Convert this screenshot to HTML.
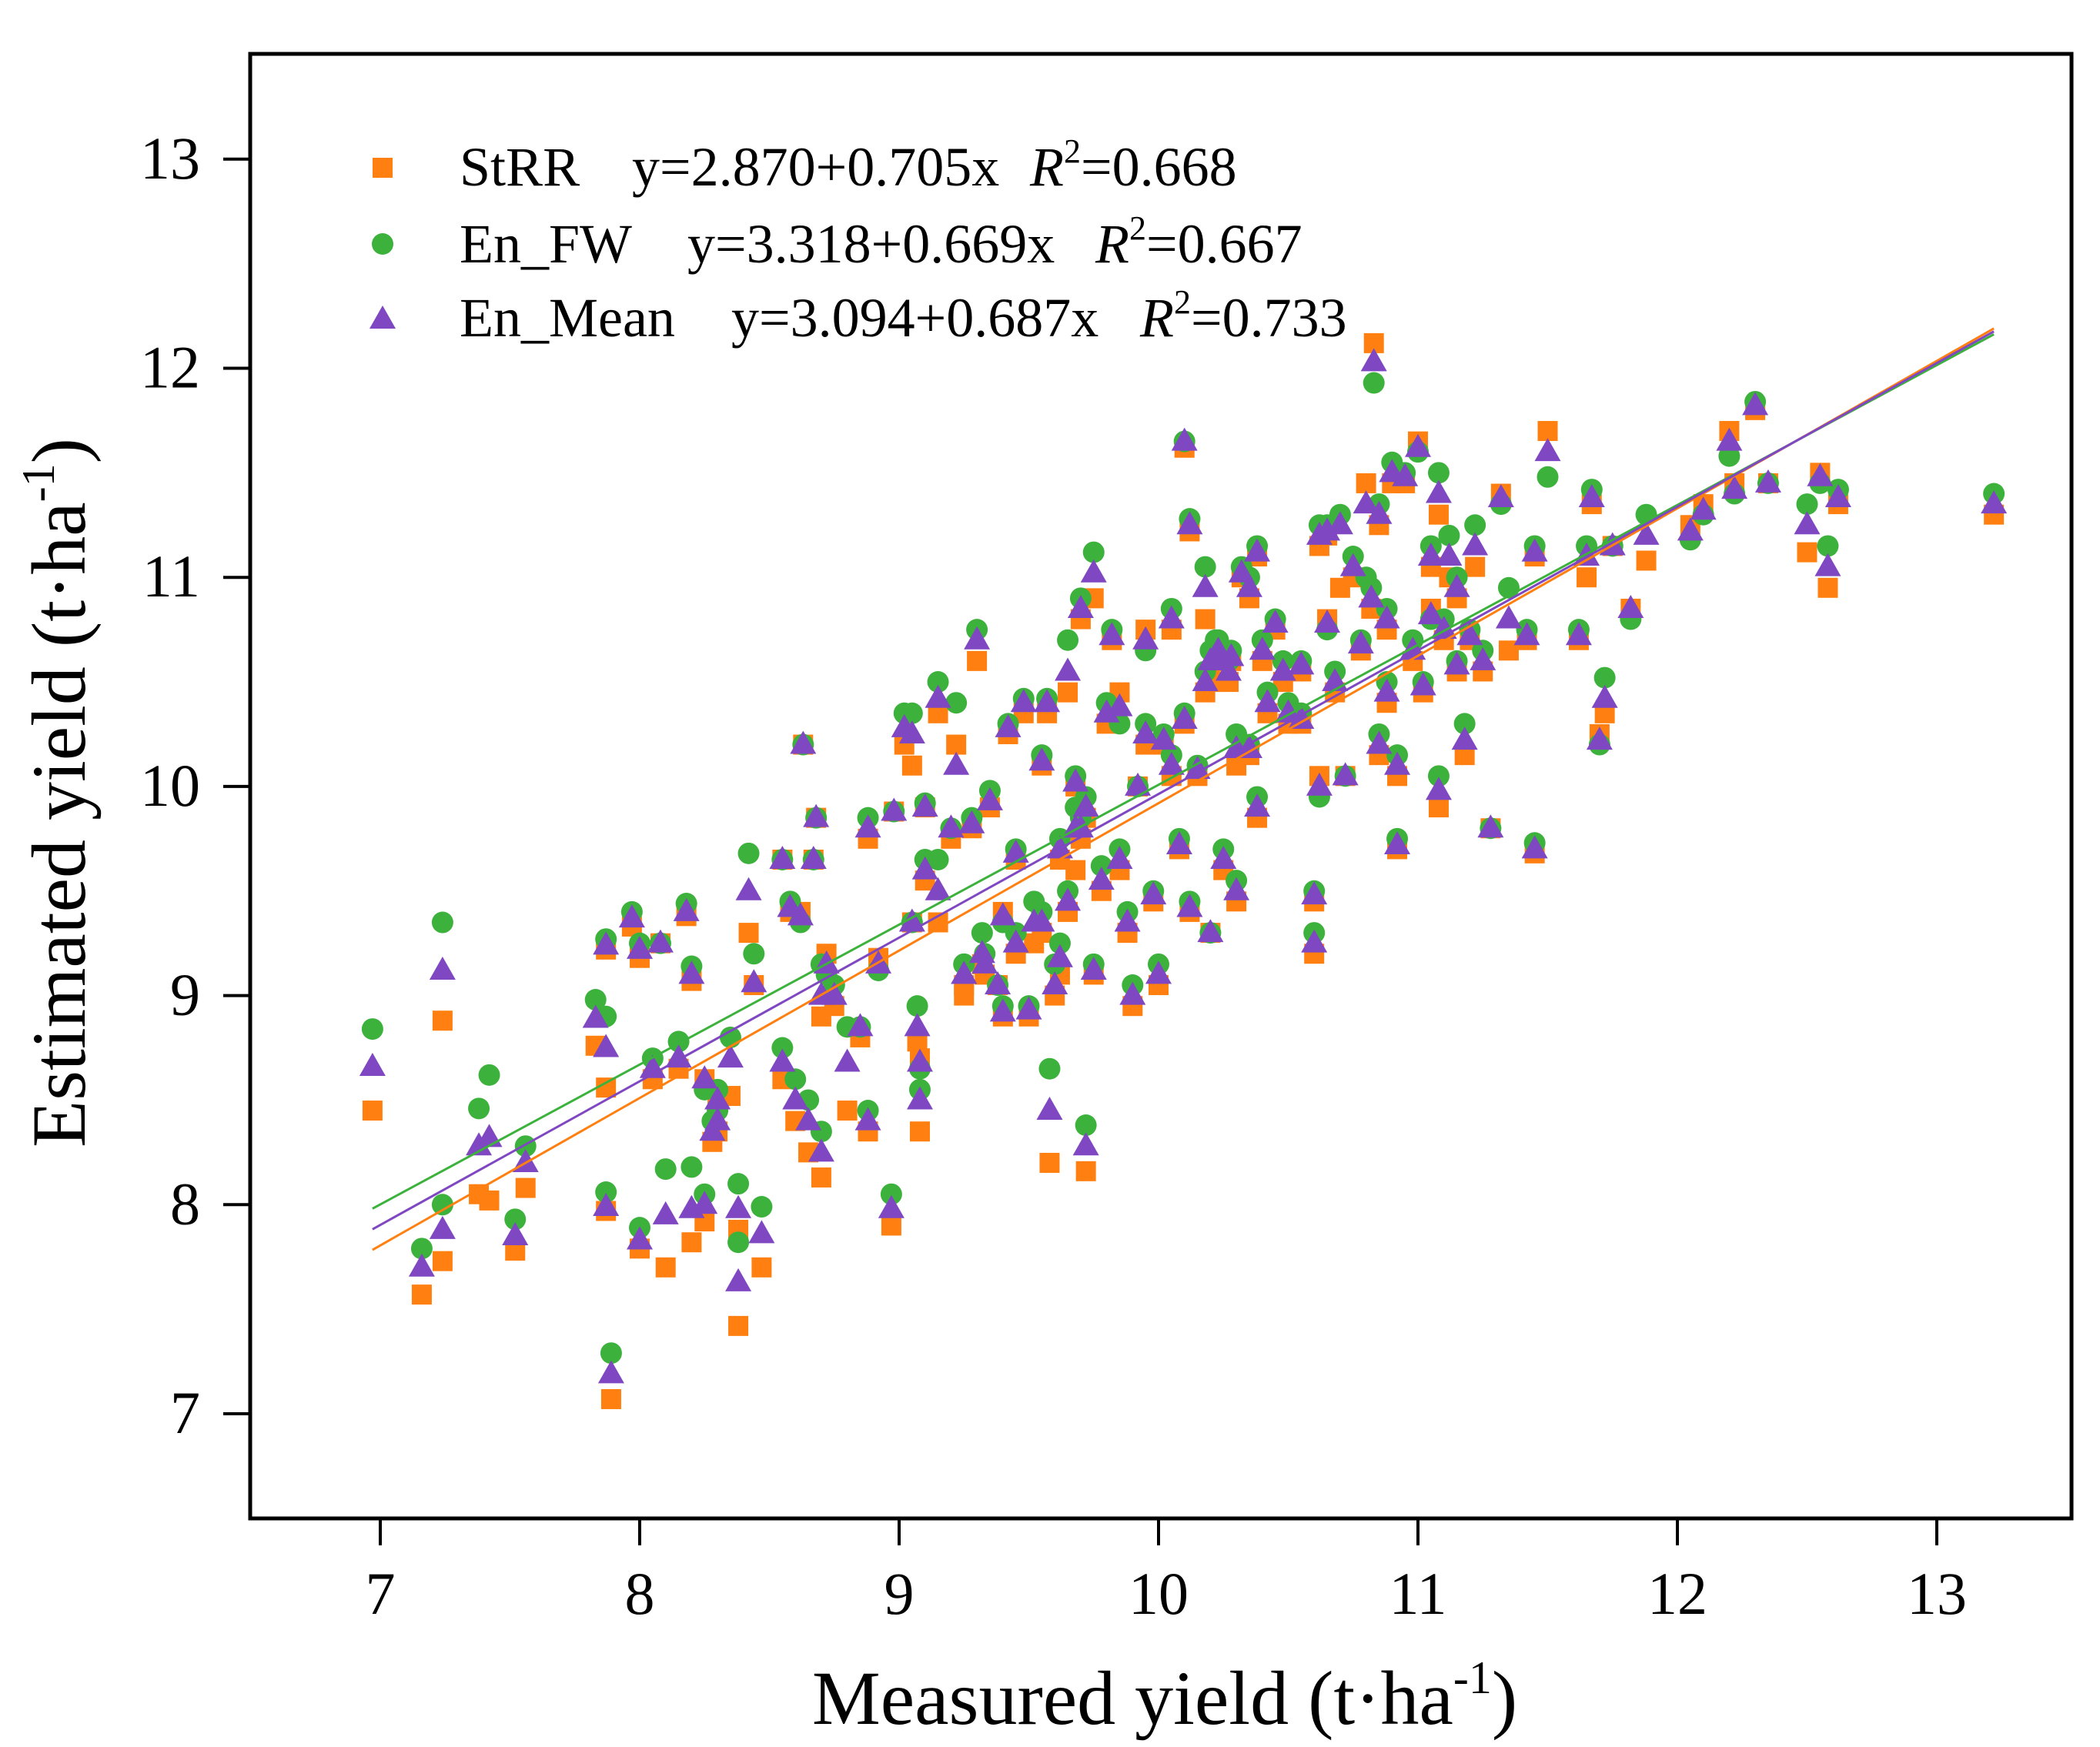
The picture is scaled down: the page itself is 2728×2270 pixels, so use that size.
<!DOCTYPE html>
<html><head><meta charset="utf-8"><style>
html,body{margin:0;padding:0;background:#fff;}
svg{display:block;}
text{font-family:"Liberation Serif",serif;fill:#000;}
</style></head><body>
<svg id="chart" width="2728" height="2270" viewBox="0 0 2728 2270" xmlns="http://www.w3.org/2000/svg">
<g id="marks"></g>
<g id="axes"></g>
<g id="legend">
  <rect x="484" y="205" width="26" height="26" fill="#ff8010"/>
  <circle cx="497" cy="317" r="14" fill="#3cb23c"/>
  <polygon points="497,397 514,427 480,427" fill="#7f47c1"/>
  <text x="597" y="241" font-size="72">StRR</text>
  <text x="821" y="241" font-size="72">y=2.870+0.705x</text>
  <text x="1338" y="241" font-size="72"><tspan font-style="italic">R</tspan><tspan font-size="44" dy="-30">2</tspan><tspan dy="30">=0.668</tspan></text>
  <text x="597" y="341" font-size="72">En_FW</text>
  <text x="893" y="341" font-size="72">y=3.318+0.669x</text>
  <text x="1423" y="341" font-size="72"><tspan font-style="italic">R</tspan><tspan font-size="44" dy="-30">2</tspan><tspan dy="30">=0.667</tspan></text>
  <text x="597" y="437" font-size="72">En_Mean</text>
  <text x="950" y="437" font-size="72">y=3.094+0.687x</text>
  <text x="1481" y="437" font-size="72"><tspan font-style="italic">R</tspan><tspan font-size="44" dy="-30">2</tspan><tspan dy="30">=0.733</tspan></text>
</g>
<text x="1513" y="2240" font-size="100" text-anchor="middle">Measured yield (t·ha<tspan font-size="60" dy="-40">-1</tspan><tspan dy="40">)</tspan></text>
<text transform="translate(110,1030) rotate(-90)" font-size="100" text-anchor="middle">Estimated yield (t·ha<tspan font-size="60" dy="-40">-1</tspan><tspan dy="40">)</tspan></text>
</svg>
<script>
const measured = [6.97,7.16,7.24,7.24,7.38,7.42,7.52,7.56,7.83,7.87,7.87,7.89,7.87,7.97,8.00,8.00,8.05,8.08,8.10,8.15,8.18,8.20,8.20,8.25,8.25,8.28,8.30,8.35,8.38,8.38,8.42,8.44,8.47,8.55,8.55,8.58,8.62,8.63,8.65,8.67,8.68,8.70,8.70,8.72,8.80,8.85,8.88,8.88,8.92,8.97,8.98,9.02,9.05,9.05,9.07,9.08,9.08,9.10,9.15,9.15,9.20,9.22,9.25,9.28,9.30,9.32,9.35,9.38,9.40,9.42,9.45,9.48,9.50,9.52,9.55,9.57,9.58,9.60,9.62,9.65,9.68,9.70,9.72,9.75,9.75,9.78,9.82,9.85,9.88,9.90,9.92,9.95,9.98,10.00,10.02,10.05,10.08,10.10,10.12,10.12,10.15,10.18,10.20,10.22,10.25,10.28,10.30,10.32,10.35,10.38,10.40,10.45,10.50,10.55,10.60,10.60,10.62,10.62,10.65,10.70,10.72,10.78,10.80,10.83,10.85,10.88,10.90,10.92,10.92,10.95,11.00,11.02,11.05,11.08,11.08,11.12,11.15,11.18,11.22,11.25,11.28,11.32,11.35,11.42,11.45,11.45,11.50,11.62,11.65,11.67,11.70,11.72,11.75,11.82,11.88,12.05,12.10,12.20,12.22,12.30,12.35,12.50,12.55,12.58,12.62,13.22,
9.25,9.33,9.45,9.55,9.62,9.65,9.70,9.72,9.80,9.85,9.95,10.05,10.10,10.18,10.20,10.23,10.27,10.30,10.35,10.38,10.42,10.48,10.55,10.65,10.68,10.75,10.82,10.85,10.88,10.98,11.05,11.10,11.15,11.20,9.10,8.75,8.60,8.30,9.40,9.68];
const strrEst = [8.45,7.57,8.88,7.73,8.05,8.02,7.78,8.08,8.76,7.97,9.22,7.07,8.56,9.33,7.79,9.18,8.60,9.25,7.70,8.65,9.38,9.07,7.82,8.60,7.92,8.30,8.48,8.52,7.42,7.88,9.30,9.05,7.70,8.60,9.65,9.40,9.40,10.20,8.25,9.65,9.85,8.13,8.90,9.20,8.45,8.80,8.35,9.75,9.18,7.90,9.88,10.20,10.10,9.35,8.78,8.35,8.70,9.90,9.35,10.35,9.75,10.20,9.00,9.80,10.60,9.15,9.90,9.05,9.40,10.25,9.65,10.35,8.90,9.25,10.10,10.35,8.20,9.00,9.65,10.45,9.60,10.80,8.16,10.90,9.10,9.50,10.70,10.45,9.30,8.95,10.00,10.75,9.45,9.05,10.20,10.75,9.70,11.62,11.22,9.40,10.05,10.80,9.30,10.50,9.60,10.60,9.45,11.00,10.15,9.85,10.60,10.75,10.30,10.55,9.20,9.45,10.05,11.15,10.80,10.95,10.05,10.65,11.45,12.12,10.15,10.75,11.45,9.70,10.05,11.45,11.65,10.45,10.85,9.90,11.30,11.00,10.55,10.15,11.05,10.55,9.80,11.40,10.65,10.70,9.68,11.10,11.70,10.70,11.00,11.35,10.25,10.35,11.15,10.85,11.08,11.25,11.35,11.70,11.45,11.80,11.45,11.12,11.50,10.95,11.35,11.30,
9.05,9.10,9.20,9.30,9.10,9.40,9.75,9.85,10.30,9.60,10.20,10.05,10.30,10.45,10.55,10.60,10.50,10.10,10.90,11.10,10.35,10.50,10.30,11.20,10.45,11.00,10.85,11.25,10.40,10.60,11.05,10.70,10.90,10.70,9.55,8.95,8.40,8.35,8.90,10.00];
const fwEst = [8.84,7.79,9.35,8.00,8.46,8.62,7.93,8.28,8.98,8.06,9.27,7.29,8.90,9.40,7.89,9.25,8.70,9.25,8.17,8.78,9.44,9.14,8.18,8.55,8.05,8.40,8.55,8.80,7.82,8.10,9.68,9.20,7.99,8.75,9.65,9.45,9.35,10.20,8.50,9.65,9.85,8.35,9.15,9.10,8.85,8.85,8.45,9.85,9.12,8.05,9.88,10.35,10.35,9.35,8.95,8.55,8.65,9.92,9.65,10.50,9.80,10.40,9.15,9.85,10.75,9.30,9.98,9.05,9.35,10.30,9.70,10.42,8.95,9.45,10.15,10.42,8.65,9.15,9.75,10.70,9.90,10.90,8.38,11.12,9.15,9.62,10.75,10.30,9.40,9.05,10.00,10.65,9.50,9.15,10.25,10.85,9.75,11.65,11.28,9.45,10.10,11.05,9.30,10.70,9.70,10.65,9.55,11.05,10.20,9.95,10.70,10.80,10.40,10.60,9.30,9.50,9.95,11.25,10.75,11.30,10.05,10.70,11.00,11.93,10.25,10.85,11.55,9.75,10.15,11.50,11.60,10.50,10.80,10.05,11.50,11.20,10.60,10.30,11.25,10.65,9.80,11.35,10.95,10.75,9.73,11.15,11.48,10.75,11.15,11.42,10.20,10.52,11.15,10.80,11.30,11.18,11.30,11.58,11.40,11.84,11.45,11.35,11.45,11.15,11.42,11.40,
9.15,9.20,9.30,9.40,9.25,9.50,9.85,9.95,10.40,9.70,10.30,10.15,10.35,10.55,10.65,10.70,10.60,10.25,11.00,11.15,10.45,10.60,10.35,11.25,10.55,11.10,10.95,11.35,10.50,10.70,11.15,10.80,11.00,10.75,9.65,9.05,8.60,8.45,8.95,10.05];
const meanEst = [8.66,7.70,9.12,7.88,8.28,8.32,7.85,8.20,8.89,7.99,9.24,7.19,8.75,9.37,7.83,9.22,8.65,9.25,7.95,8.70,9.40,9.10,7.98,8.60,8.00,8.35,8.50,8.70,7.63,7.98,9.50,9.06,7.86,8.68,9.65,9.42,9.38,10.20,8.40,9.65,9.85,8.25,9.00,9.15,8.68,8.85,8.40,9.80,9.15,7.98,9.88,10.28,10.25,9.35,8.85,8.50,8.68,9.90,9.50,10.42,9.80,10.10,9.10,9.82,10.70,9.20,9.93,9.05,9.38,10.28,9.68,10.40,8.93,9.35,10.12,10.40,8.45,9.05,9.70,10.55,9.80,10.85,8.28,11.02,9.12,9.55,10.72,10.38,9.35,9.00,10.00,10.70,9.48,9.10,10.22,10.80,9.72,11.65,11.25,9.42,10.08,10.95,9.30,10.60,9.65,10.62,9.50,11.02,10.18,9.90,10.65,10.78,10.35,10.58,9.25,9.48,10.00,11.20,10.78,11.25,10.05,10.68,11.35,12.03,10.20,10.80,11.50,9.72,10.10,11.48,11.62,10.48,10.82,9.98,11.40,11.10,10.58,10.22,11.15,10.60,9.80,11.38,10.80,10.72,9.70,11.12,11.60,10.72,11.10,11.38,10.22,10.42,11.15,10.85,11.20,11.22,11.32,11.65,11.42,11.82,11.45,11.25,11.48,11.05,11.38,11.35,
9.10,9.15,9.25,9.35,9.18,9.45,9.80,9.90,10.35,9.65,10.25,10.10,10.32,10.50,10.60,10.65,10.55,10.18,10.95,11.12,10.40,10.55,10.32,11.22,10.50,11.05,10.90,11.30,10.45,10.65,11.10,10.75,10.95,10.72,9.60,9.00,8.50,8.40,8.92,10.02];
const intercepts = [2.870, 3.318, 3.094];
const slopes = [0.705, 0.669, 0.687];
const xTicks = [7,8,9,10,11,12,13];
const yTicks = [7,8,9,10,11,12,13];

const NS = "http://www.w3.org/2000/svg";
const X0 = 494, XS = 337, Y0 = 1837, YS = 271.7;
function sx(v){ return X0 + (v-7)*XS; }
function sy(v){ return Y0 - (v-7)*YS; }
function mk(tag, attrs, parent){
  const e = document.createElementNS(NS, tag);
  for (const k in attrs) e.setAttribute(k, attrs[k]);
  parent.appendChild(e);
  return e;
}
const marks = document.getElementById('marks');
const axes = document.getElementById('axes');
const colors = ['#ff8010','#3cb23c','#7f47c1'];

for (let i=0;i<measured.length;i++){
  const r = mk('rect',{x:sx(measured[i])-13,y:sy(strrEst[i])-13,width:26,height:26,fill:colors[0]},marks);
  
  
}
for (let i=0;i<measured.length;i++){
  const c = mk('circle',{cx:sx(measured[i]),cy:sy(fwEst[i]),r:14,fill:colors[1]},marks);
  
  
}
for (let i=0;i<measured.length;i++){
  const x = sx(measured[i]), y = sy(meanEst[i]);
  const p = mk('polygon',{points:`${x},${y-18} ${x+17},${y+12} ${x-17},${y+12}`,fill:colors[2]},marks);
  
  
}
const lineNames = ['fit-line-strr','fit-line-en-fw','fit-line-en-mean'];
const xmin = Math.min(...measured), xmax = Math.max(...measured);
for (let k=0;k<3;k++){
  const l = mk('line',{x1:sx(xmin),y1:sy(intercepts[k]+slopes[k]*xmin),x2:sx(xmax),y2:sy(intercepts[k]+slopes[k]*xmax),stroke:colors[k],'stroke-width':3},marks);
  
  
}
const frame = mk('rect',{x:325,y:70,width:2366,height:1903,fill:'none',stroke:'#000','stroke-width':5},axes);


xTicks.forEach(t=>{
  const tk = mk('line',{x1:sx(t),y1:1973,x2:sx(t),y2:2008,stroke:'#000','stroke-width':4},axes);
  
  
  const tl = mk('text',{x:sx(t),y:2097,'font-size':78,'text-anchor':'middle'},axes);
  tl.textContent = t;
  
  
});
yTicks.forEach(t=>{
  const tk = mk('line',{x1:290,y1:sy(t),x2:325,y2:sy(t),stroke:'#000','stroke-width':4},axes);
  
  
  const tl = mk('text',{x:260,y:sy(t)+25,'font-size':78,'text-anchor':'end'},axes);
  tl.textContent = t;
  
  
});
</script>
</body></html>
